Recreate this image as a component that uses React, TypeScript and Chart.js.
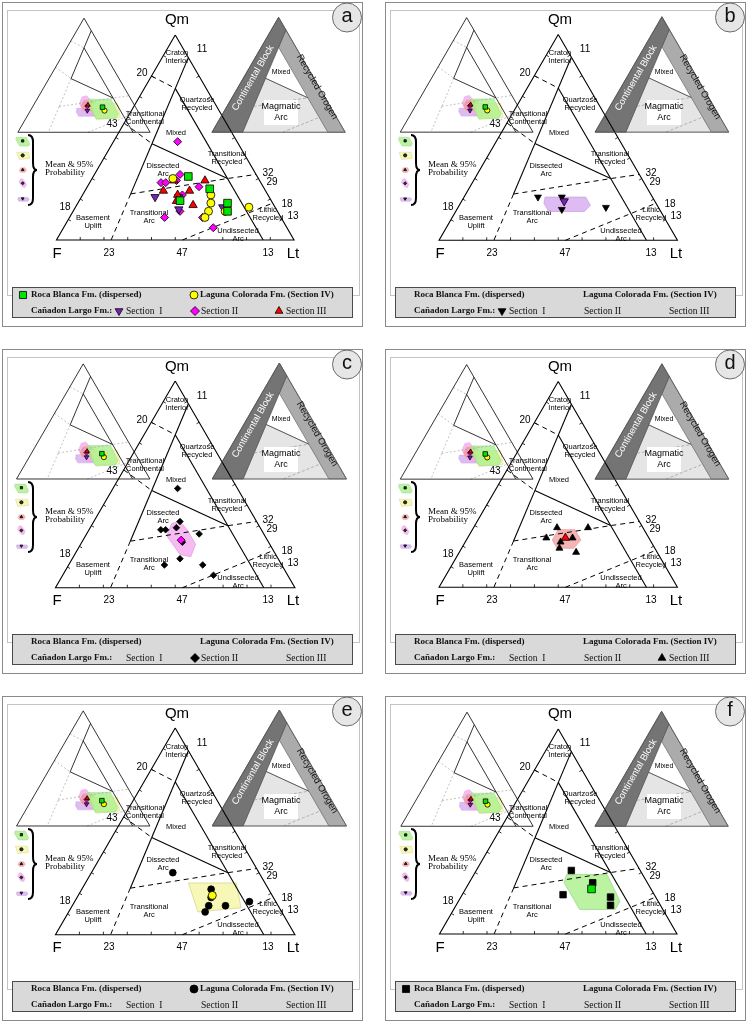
import React, { useEffect, useRef } from 'react';
import { Chart, registerables } from 'chart.js';

Chart.register(...registerables);

type T = [number, number, number]; // [Qm, F, Lt] in %
type P = { x: number; y: number };

/* ---------------- sample data (Qm, F, Lt %) ---------------- */
const rocaBlanca: T[] = [[31, 29, 40], [25, 23, 52], [19, 38, 42], [18, 19, 63], [14, 21, 65]];
const rocaBlancaMean: T = [22, 25, 53];
const rocaBlancaHull: T[] = [[29, 32, 39], [29, 15, 56], [16, 16, 68], [12, 20, 68], [12, 35, 53], [25, 35, 40]];

const lagunaColorada: T[] = [[30, 36, 34], [22, 24, 54], [18, 26, 56], [14, 29, 57], [11, 32, 57], [16, 11, 73], [14, 22, 64]];
const lagunaColoradaMean: T = [19, 25, 56];
const lagunaColoradaHull: T[] = [[25, 32, 43], [25, 12, 63], [13, 16, 71], [11, 35, 54]];

const sectionI: T[] = [[21, 48, 31], [21, 38, 41], [15, 41, 44], [16, 22, 62]];
const sectionIMean: T = [19, 38, 43];
const sectionIHull: T[] = [[21, 45, 34], [21, 28, 51], [17, 28, 55], [14, 32, 54], [14, 47, 39], [18, 47, 35]];

const sectionII: T[] = [[48, 25, 27], [32, 32, 36], [28, 42, 30], [28, 40, 32], [29, 35, 36], [26, 27, 47], [22, 36, 42], [14, 41, 45], [11, 49, 40], [11, 33, 56], [6, 31, 63]];
const sectionIIMean: T = [23, 36, 41];
const sectionIIHull: T[] = [[31, 36, 33], [32, 32, 36], [28, 31, 41], [21, 31, 48], [15, 36, 49], [16, 40, 44], [25, 41, 34]];

const sectionIII: T[] = [[24, 43, 33], [29, 23, 48], [22, 38, 40], [24, 32, 44], [19, 40, 41], [17, 34, 49], [29, 36, 35]];
const sectionIIIMean: T = [24, 35, 41];
const sectionIIIHull: T[] = [[28, 36, 36], [28, 29, 43], [23, 29, 48], [19, 34, 47], [19, 41, 40], [23, 41, 36]];

/* ---------------- QmFLt field boundaries ---------------- */
const edgeLine: T[] = [[100, 0, 0], [0, 100, 0], [0, 0, 100], [100, 0, 0]];
const blockLineTop: T[] = [[89, 0, 11], [47, 36.3, 16.7]];
const blockLineMid: T[] = [[47, 36.3, 16.7], [22.5, 57.5, 20]];
const blockLineDashed: T[] = [[22.5, 57.5, 20], [0, 77, 23]];
const recycledLine: T[] = [[74, 13, 13], [0, 13, 87]];
const mixedArcLine: T[] = [[47, 36.3, 16.7], [30, 13, 57]];
const cratonLine: T[] = [[80, 20, 0], [74, 13, 13]];
const transContLine: T[] = [[57, 43, 0], [47, 36.3, 16.7]];
const dissectedLine: T[] = [[22.5, 57.5, 20], [30, 13, 57], [32, 0, 68]];
const undissectedLine: T[] = [[0, 47, 53], [18, 0, 82]];
const dissectedArcOnly: T[] = [[22.5, 57.5, 20], [30, 13, 57]];
const undissectedArcOnly: T[] = [[0, 47, 53], [13, 13, 74]];

const blockRegion: T[] = [[100, 0, 0], [89, 0, 11], [0, 77, 23], [0, 100, 0]];
const recycledRegion: T[] = [[89, 0, 11], [74, 13, 13], [0, 13, 87], [0, 0, 100]];
const arcRegion: T[] = [[0, 77, 23], [47, 36.3, 16.7], [30, 13, 57], [0, 13, 87]];

/* ---------------- layout ---------------- */
const W = 361;
const H = 325;
const PX = 2.46; // px per % of main triangle side
const OX = 50; // F vertex (local px)
const OY = 241;
const SQ = Math.sqrt(3) / 2;
const XMIN = -OX / PX;
const XMAX = (W - OX) / PX;
const YMAX = OY / PX;
const YMIN = -(H - OY) / PX;

type Tr = { ox: number; oy: number; s: number };
const LEFT_INSET: Tr = { ox: (10 - OX) / PX, oy: (OY - 129) / PX, s: 137 / 246 };
const DICK_INSET: Tr = { ox: (211 - OX) / PX, oy: (OY - 129) / PX, s: 138 / 246 };

function cart(t: T): P {
  const s = t[0] + t[1] + t[2];
  return { x: ((t[2] + t[0] / 2) / s) * 100, y: (t[0] / s) * 100 * SQ };
}
function place(t: T, tr?: Tr): P {
  const p = cart(t);
  return tr ? { x: tr.ox + tr.s * p.x, y: tr.oy + tr.s * p.y } : p;
}

type Group = {
  pts: T[]; mean: T; hull: T[]; shape: string; rot: number; color: string; hullFill: string; hullEdge: string;
  icon: [number, number]; order: number;
};
const GROUPS: Record<string, Group> = {
  rb: { pts: rocaBlanca, mean: rocaBlancaMean, hull: rocaBlancaHull, shape: 'rect', rot: 0, color: '#00e400', hullFill: 'rgba(170,240,140,0.8)', hullEdge: '#9ad88a', icon: [15, 138], order: 5 },
  lc: { pts: lagunaColorada, mean: lagunaColoradaMean, hull: lagunaColoradaHull, shape: 'circle', rot: 0, color: '#ffff00', hullFill: 'rgba(246,246,175,0.9)', hullEdge: '#d8d890', icon: [15, 153], order: 6 },
  s3: { pts: sectionIII, mean: sectionIIIMean, hull: sectionIIIHull, shape: 'triangle', rot: 0, color: '#ff0000', hullFill: 'rgba(242,140,140,0.65)', hullEdge: '#e8a0a0', icon: [15, 168], order: 7 },
  s2: { pts: sectionII, mean: sectionIIMean, hull: sectionIIHull, shape: 'rectRot', rot: 0, color: '#ff00ff', hullFill: 'rgba(244,170,240,0.8)', hullEdge: '#e0a0dc', icon: [15, 182], order: 9 },
  s1: { pts: sectionI, mean: sectionIMean, hull: sectionIHull, shape: 'triangle', rot: 180, color: '#7b22b8', hullFill: 'rgba(215,170,240,0.8)', hullEdge: '#c9a6e0', icon: [15, 198], order: 8 },
};
const GROUP_ORDER = ['rb', 'lc', 's3', 's2', 's1'];

const PANELS = [
  { id: 'a', col: 0, row: 0, focus: '' },
  { id: 'b', col: 1, row: 0, focus: 's1' },
  { id: 'c', col: 0, row: 1, focus: 's2' },
  { id: 'd', col: 1, row: 1, focus: 's3' },
  { id: 'e', col: 0, row: 2, focus: 'lc' },
  { id: 'f', col: 1, row: 2, focus: 'rb' },
];

const FIELD_LABELS: [string, number, number][] = [
  ['Craton', 175, 51], ['Interior', 175, 59],
  ['Quartzose', 195, 98], ['Recycled', 195, 106],
  ['Transitional', 143, 112], ['Continental', 143, 120],
  ['Mixed', 174, 131],
  ['Transitional', 225, 152], ['Recycled', 225, 160],
  ['Dissected', 161, 164], ['Arc', 161, 172],
  ['Transitional', 147, 211], ['Arc', 147, 219],
  ['Basement', 91, 216], ['Uplift', 91, 224],
  ['Lithic', 266, 208], ['Recycled', 266, 216],
  ['Undissected', 236, 229], ['Arc', 236, 237],
];
const NUM_LABELS: [string, number, number][] = [
  ['20', 140, 71], ['11', 200, 47], ['43', 110, 122], ['18', 63, 205],
  ['32', 266, 171], ['29', 270, 180], ['18', 285, 202], ['13', 291, 214],
  ['23', 107, 251], ['47', 180, 251], ['13', 266, 251],
];

const LEGEND = [
  { key: 'rb', mx: 21, my: 293, text: 'Roca Blanca Fm. (dispersed)', tx: 29, bold: true },
  { key: 'lc', mx: 192, my: 293, text: 'Laguna Colorada Fm. (Section IV)', tx: 198, bold: true },
  { key: 's1', mx: 117, my: 309, text: 'Section  I', tx: 124, bold: false },
  { key: 's2', mx: 193, my: 309, text: 'Section II', tx: 199, bold: false },
  { key: 's3', mx: 277, my: 309, text: 'Section III', tx: 284, bold: false },
];

const SANS = '"Liberation Sans", Arial, sans-serif';
const SERIF = '"Liberation Serif", "Times New Roman", serif';

function drawMarker(ctx: CanvasRenderingContext2D, shape: string, rot: number, x: number, y: number, r: number, fill: string, stroke: string) {
  ctx.save();
  ctx.beginPath();
  if (shape === 'circle') ctx.arc(x, y, r, 0, Math.PI * 2);
  else if (shape === 'rect') { const s = r * Math.SQRT1_2; ctx.rect(x - s, y - s, 2 * s, 2 * s); }
  else if (shape === 'rectRot') { ctx.moveTo(x, y - r); ctx.lineTo(x + r, y); ctx.lineTo(x, y + r); ctx.lineTo(x - r, y); ctx.closePath(); }
  else { const d = rot === 180 ? -1 : 1; ctx.moveTo(x, y - d * r); ctx.lineTo(x + r * SQ, y + (d * r) / 2); ctx.lineTo(x - r * SQ, y + (d * r) / 2); ctx.closePath(); }
  ctx.fillStyle = fill; ctx.fill();
  ctx.lineWidth = 0.8; ctx.strokeStyle = stroke; ctx.stroke();
  ctx.restore();
}

function txt(ctx: CanvasRenderingContext2D, s: string, x: number, y: number, font: string, color = '#000', align: CanvasTextAlign = 'center') {
  ctx.font = font; ctx.fillStyle = color; ctx.textAlign = align; ctx.textBaseline = 'middle';
  ctx.fillText(s, x, y);
}

function iconPlace(t: T, g: Group, k: number): P {
  const p = cart(t); const m = cart(g.mean);
  const cx = (g.icon[0] - OX) / PX; const cy = (OY - g.icon[1]) / PX;
  return { x: cx + k * (p.x - m.x), y: cy + k * (p.y - m.y) };
}

function makeDecor(panel: { id: string; focus: string }) {
  return {
    id: 'decor',
    beforeDatasetsDraw(chart: any) {
      const ctx: CanvasRenderingContext2D = chart.ctx;
      const sx = chart.scales.x; const sy = chart.scales.y;
      const pix = (p: P) => ({ x: sx.getPixelForValue(p.x), y: sy.getPixelForValue(p.y) });
      ctx.save();
      ctx.fillStyle = '#fff'; ctx.fillRect(0, 0, W, H);
      ctx.strokeStyle = '#8a8a8a'; ctx.lineWidth = 1; ctx.strokeRect(0.5, 0.5, W - 1, H - 1);
      ctx.strokeStyle = '#c4c4c4'; ctx.strokeRect(5.5, 8.5, 352, 285);
      // ternary ticks (10 %)
      ctx.strokeStyle = '#000'; ctx.lineWidth = 0.8;
      for (let k = 1; k < 10; k++) {
        const v = k * 10;
        const ticks: [T, number, number][] = [
          [[0, 100 - v, v], 0, -1],
          [[v, 100 - v, 0], SQ, 0.5],
          [[v, 0, 100 - v], -SQ, 0.5],
        ];
        for (const [t, dx, dy] of ticks) {
          const p = pix(place(t));
          ctx.beginPath(); ctx.moveTo(p.x, p.y); ctx.lineTo(p.x + dx * 3, p.y + dy * 3); ctx.stroke();
        }
      }
      for (const [s, x, y] of FIELD_LABELS) txt(ctx, s, x, y, `7.5px ${SANS}`);
      for (const [s, x, y] of NUM_LABELS) txt(ctx, s, x, y, `10px ${SANS}`);
      txt(ctx, 'Qm', 175, 18, `15px ${SANS}`);
      txt(ctx, 'F', 55, 252, `15px ${SANS}`);
      txt(ctx, 'Lt', 291, 252, `15px ${SANS}`);
      // Mean & 95% probability brace + text
      ctx.strokeStyle = '#000'; ctx.lineWidth = 2;
      ctx.beginPath();
      ctx.moveTo(26, 133); ctx.quadraticCurveTo(31, 133, 31, 140);
      ctx.lineTo(31, 161); ctx.quadraticCurveTo(31, 168, 35, 168);
      ctx.quadraticCurveTo(31, 168, 31, 175); ctx.lineTo(31, 196);
      ctx.quadraticCurveTo(31, 203, 26, 203);
      ctx.stroke();
      txt(ctx, 'Mean & 95%', 43, 163, `9px ${SERIF}`, '#000', 'left');
      txt(ctx, 'Probability', 43, 171, `9px ${SERIF}`, '#000', 'left');
      ctx.restore();
    },
    afterDatasetsDraw(chart: any) {
      const ctx: CanvasRenderingContext2D = chart.ctx;
      ctx.save();
      // Dickinson inset labels
      ctx.save(); ctx.translate(251, 76); ctx.rotate(-Math.PI / 3);
      txt(ctx, 'Continental Block', 0, 0, `9.5px ${SANS}`, '#fff'); ctx.restore();
      ctx.save(); ctx.translate(315, 85); ctx.rotate(Math.PI / 3);
      txt(ctx, 'Recycled Orogen', 0, 0, `9.5px ${SANS}`, '#111'); ctx.restore();
      txt(ctx, 'Mixed', 279, 70, `7px ${SANS}`);
      ctx.fillStyle = '#fff'; ctx.fillRect(262, 98, 34, 25);
      txt(ctx, 'Magmatic', 279, 105, `9px ${SANS}`);
      txt(ctx, 'Arc', 279, 116, `9px ${SANS}`);
      // legend box
      ctx.fillStyle = '#d9d9d9'; ctx.fillRect(10, 285, 340, 30);
      ctx.strokeStyle = '#4a4a4a'; ctx.lineWidth = 1; ctx.strokeRect(10.5, 285.5, 340, 30);
      txt(ctx, 'Cañadon Largo Fm.:', 29, 309, `bold 9px ${SERIF}`, '#111', 'left');
      for (const L of LEGEND) {
        const g = GROUPS[L.key];
        txt(ctx, L.text, L.tx, L.my, L.bold ? `bold 9px ${SERIF}` : `9.5px ${SERIF}`, '#111', 'left');
        const r = g.shape === 'rect' ? 5 : g.shape === 'circle' ? 4 : 4.5;
        if (!panel.focus) drawMarker(ctx, g.shape, g.rot, L.mx, L.my, r, g.color, '#000');
        else if (panel.focus === L.key) drawMarker(ctx, g.shape, g.rot, L.mx, L.my, r, '#000', '#000');
      }
      // panel letter
      ctx.beginPath(); ctx.arc(345, 15.5, 14.5, 0, Math.PI * 2);
      ctx.fillStyle = '#e6e6e6'; ctx.fill(); ctx.strokeStyle = '#6a6a6a'; ctx.lineWidth = 1; ctx.stroke();
      txt(ctx, panel.id, 345, 14, `20px ${SANS}`, '#111');
      ctx.restore();
    },
  };
}

function buildDatasets(panel: { id: string; focus: string }) {
  const ds: any[] = [];
  const line = (pts: T[], tr: Tr | undefined, color: string, width: number, dash: number[], order: number) =>
    ds.push({ data: pts.map((t) => place(t, tr)), showLine: true, fill: false, borderColor: color, borderWidth: width, borderDash: dash, pointRadius: 0, order });
  const poly = (pts: P[], fillColor: string, edge: string, bw: number, order: number) =>
    ds.push({ data: [...pts, pts[0]], showLine: true, fill: 'shape', backgroundColor: fillColor, borderColor: edge, borderWidth: bw, pointRadius: 0, order });
  const marks = (pts: P[], g: Group, r: number, fill: string, order: number) =>
    ds.push({ data: pts, showLine: false, pointStyle: g.shape, pointRotation: g.rot, pointRadius: r, backgroundColor: fill, pointBackgroundColor: fill, borderColor: '#000', pointBorderColor: '#000', pointBorderWidth: 0.8, order });
  const radius = (g: Group, big: boolean) => (g.shape === 'rect' ? (big ? 5.4 : 4.6) : g.shape === 'circle' ? (big ? 4 : 3.4) : g.shape === 'rectRot' ? (big ? 4 : 3.3) : big ? 4.8 : 4);

  // Dickinson inset
  poly(blockRegion.map((t) => place(t, DICK_INSET)), '#747474', '#555', 0.8, 40);
  poly(recycledRegion.map((t) => place(t, DICK_INSET)), '#ababab', '#777', 0.8, 40);
  poly(arcRegion.map((t) => place(t, DICK_INSET)), '#e5e5e5', '#999', 0.6, 40);
  line(edgeLine, DICK_INSET, '#555', 0.8, [], 15);
  line(mixedArcLine, DICK_INSET, '#444', 0.8, [], 15);
  line(dissectedArcOnly, DICK_INSET, '#9a9a9a', 0.7, [3, 2], 15);
  line(undissectedArcOnly, DICK_INSET, '#9a9a9a', 0.7, [3, 2], 15);

  // left overview inset
  for (const k of GROUP_ORDER) {
    const g = GROUPS[k];
    poly(g.hull.map((t) => place(t, LEFT_INSET)), g.hullFill, g.hullEdge, 0.5, 20);
    marks([place(g.mean, LEFT_INSET)], g, g.shape === 'rect' ? 3.2 : 2.6, g.color, 1);
    // legend icon
    poly(g.hull.map((t) => iconPlace(t, g, 0.25)), g.hullFill, g.hullEdge, 0.5, 20);
    marks([iconPlace(g.mean, g, 0.25)], g, 1.6, '#333', 1);
  }
  line(edgeLine, LEFT_INSET, '#000', 0.8, [], 15);
  for (const L of [blockLineTop, recycledLine, mixedArcLine]) line(L, LEFT_INSET, '#000', 0.8, [], 15);
  for (const L of [blockLineMid, blockLineDashed, cratonLine, transContLine, dissectedLine, undissectedLine]) line(L, LEFT_INSET, '#9a9a9a', 0.6, [2, 2], 15);

  // main triangle
  line(edgeLine, undefined, '#000', 1.1, [], 15);
  for (const L of [blockLineTop, blockLineMid, recycledLine, mixedArcLine]) line(L, undefined, '#000', 1.1, [], 15);
  for (const L of [blockLineDashed, cratonLine, transContLine, dissectedLine, undissectedLine]) line(L, undefined, '#000', 1, [5, 4], 15);

  if (!panel.focus) {
    for (const k of GROUP_ORDER) {
      const g = GROUPS[k];
      marks(g.pts.map((t) => place(t)), g, radius(g, true), g.color, g.order);
    }
  } else {
    const g = GROUPS[panel.focus];
    poly(g.hull.map((t) => place(t)), g.hullFill, g.hullEdge, 0.8, 20);
    marks(g.pts.map((t) => place(t)), g, radius(g, false), '#000', 5);
    marks([place(g.mean)], g, radius(g, true), g.color, 1);
  }
  return ds;
}

function Panel({ panel }: { panel: { id: string; col: number; row: number; focus: string } }) {
  const ref = useRef<HTMLCanvasElement>(null);
  useEffect(() => {
    const chart = new Chart(ref.current as HTMLCanvasElement, {
      type: 'scatter',
      data: { datasets: buildDatasets(panel) },
      options: {
        responsive: false,
        animation: false,
        events: [],
        layout: { padding: 0 },
        plugins: { legend: { display: false }, tooltip: { enabled: false } },
        scales: {
          x: { type: 'linear', display: false, min: XMIN, max: XMAX },
          y: { type: 'linear', display: false, min: YMIN, max: YMAX },
        },
      } as any,
      plugins: [makeDecor(panel) as any],
    });
    return () => chart.destroy();
  }, []);
  return (
    <canvas
      ref={ref}
      width={W}
      height={H}
      style={{ position: 'absolute', left: 2 + panel.col * 383, top: 2 + panel.row * 347, width: W, height: H }}
    />
  );
}

export default function App() {
  return (
    <div style={{ position: 'absolute', left: 0, top: 0, width: 748, height: 1027, background: '#fff', overflow: 'hidden' }}>
      {PANELS.map((p) => (
        <Panel key={p.id} panel={p} />
      ))}
    </div>
  );
}
